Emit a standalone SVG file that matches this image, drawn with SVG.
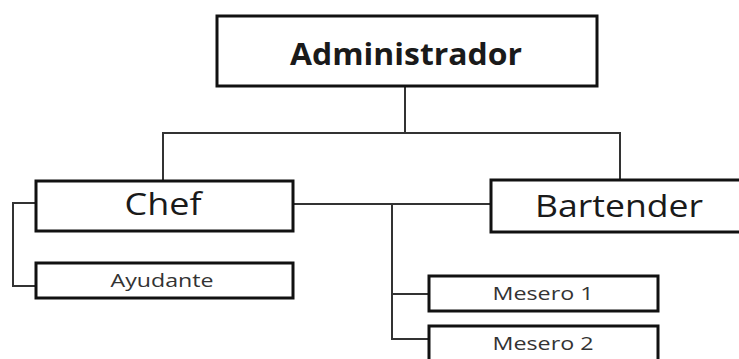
<svg xmlns="http://www.w3.org/2000/svg" width="739" height="359" viewBox="0 0 739 359">
<style>
.box{fill:#fff;stroke:#111;stroke-width:3}
.ln{fill:none;stroke:#333;stroke-width:2}
text{font-family:"Open Sans","Noto Sans",sans-serif;fill:#1a1a1a;text-anchor:middle}
.big{font-size:31px}
.small{font-size:19px;fill:#333}
</style>
<rect width="739" height="359" fill="#fff"/>
<g id="connectors">
<path class="ln" d="M405,86 V133 M163,181 V133 H620 V180"/>
<path class="ln" d="M36,203 H13 V286 H36"/>
<path class="ln" d="M293,204 H491 M392,204 V339 H429 M392,294 H429"/>
</g>
<g id="admin">
<rect class="box" x="217" y="16" width="380" height="70"/>
<text x="406" y="65" class="big" font-weight="bold" font-size="29" textLength="232" lengthAdjust="spacingAndGlyphs">Administrador</text>
</g>
<g id="chef">
<rect class="box" x="36" y="181" width="257" height="50"/>
<text x="163" y="215" class="big" textLength="77" lengthAdjust="spacingAndGlyphs">Chef</text>
</g>
<g id="bartender">
<rect class="box" x="491" y="180" width="260" height="52"/>
<text x="619" y="217" class="big" textLength="168" lengthAdjust="spacingAndGlyphs">Bartender</text>
</g>
<g id="ayudante">
<rect class="box" x="36" y="263" width="257" height="35"/>
<text x="162" y="287" class="small" textLength="103" lengthAdjust="spacingAndGlyphs">Ayudante</text>
</g>
<g id="mesero1">
<rect class="box" x="429" y="276" width="229" height="35"/>
<text x="543" y="300" class="small" textLength="101" lengthAdjust="spacingAndGlyphs">Mesero 1</text>
</g>
<g id="mesero2">
<rect class="box" x="429" y="326" width="229" height="40"/>
<text x="543" y="350" class="small" textLength="101" lengthAdjust="spacingAndGlyphs">Mesero 2</text>
</g>
</svg>
